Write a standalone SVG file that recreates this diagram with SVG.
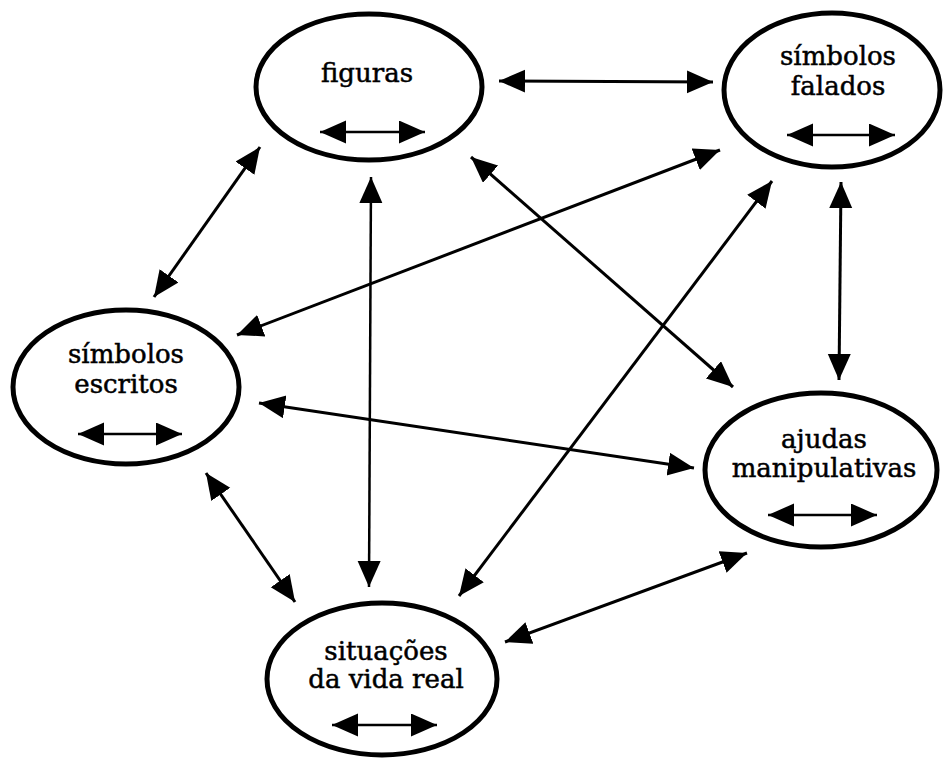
<svg xmlns="http://www.w3.org/2000/svg" width="945" height="758" viewBox="0 0 945 758">
<defs>
<style>
.node ellipse{fill:#fff;stroke:#000;stroke-width:5}
.node text{font-family:"DejaVu Serif","Liberation Serif",serif;font-size:26px;fill:#000;stroke:#000;stroke-width:0.5;text-anchor:middle}
.conn line{stroke:#000;stroke-width:3;marker-start:url(#ah);marker-end:url(#ah)}
.inner{stroke:#000;stroke-width:2.5;marker-start:url(#ah);marker-end:url(#ah)}
</style>
<marker id="ah" markerUnits="userSpaceOnUse" markerWidth="27" markerHeight="24" refX="26" refY="11.5" orient="auto-start-reverse" viewBox="0 0 27 24">
<path d="M0,0 L26,11.5 L0,23 z" fill="#000"/>
</marker>
</defs>
<rect width="945" height="758" fill="#fff"/>
<g id="connectors" class="conn">
<line x1="499" y1="81" x2="713" y2="82"/>
<line x1="260" y1="147" x2="154" y2="297"/>
<line x1="371" y1="177" x2="369" y2="587" style="stroke-width:2.5"/>
<line x1="471" y1="157" x2="733" y2="387"/>
<line x1="720" y1="150" x2="237" y2="335"/>
<line x1="841" y1="182" x2="839" y2="380"/>
<line x1="772" y1="181" x2="459" y2="596"/>
<line x1="259" y1="403" x2="694" y2="468"/>
<line x1="206" y1="473" x2="295" y2="602"/>
<line x1="747" y1="553" x2="505" y2="642"/>
</g>
<g id="figuras" class="node">
<ellipse cx="369" cy="87" rx="113" ry="73"/>
<text x="367" y="82">figuras</text>
<line class="inner" x1="320" y1="132" x2="425" y2="132"/>
</g>
<g id="simbolos-falados" class="node">
<ellipse cx="832" cy="90" rx="108" ry="77"/>
<text x="838" y="65">símbolos</text>
<text x="838" y="95">falados</text>
<line class="inner" x1="787" y1="135" x2="895" y2="135"/>
</g>
<g id="simbolos-escritos" class="node">
<ellipse cx="126" cy="387" rx="113" ry="77"/>
<text x="126" y="363">símbolos</text>
<text x="126" y="393">escritos</text>
<line class="inner" x1="78" y1="434" x2="182" y2="434"/>
</g>
<g id="ajudas-manipulativas" class="node">
<ellipse cx="821" cy="470" rx="116" ry="77"/>
<text x="824" y="448">ajudas</text>
<text x="824" y="477">manipulativas</text>
<line class="inner" x1="768" y1="515" x2="877" y2="515"/>
</g>
<g id="situacoes-vida-real" class="node">
<ellipse cx="382" cy="679" rx="115" ry="76"/>
<text x="386" y="660">situações</text>
<text x="386" y="688">da vida real</text>
<line class="inner" x1="332" y1="725" x2="437" y2="725"/>
</g>
</svg>
